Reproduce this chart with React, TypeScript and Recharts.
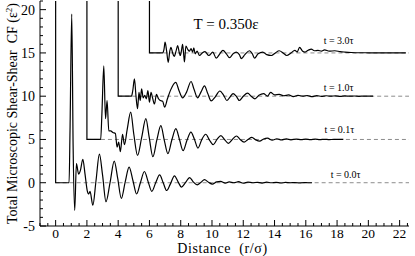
import { LineChart, Line, XAxis, YAxis, ReferenceLine, ReferenceDot } from 'recharts'

// [r, CF] pairs, before the vertical (+5) and horizontal (+2) offsets
const t00: [number, number][] = [
  [0, 40], [0.001, 0], [0.86, 0], [0.92, 6], [1.03, 19.5], [1.12, 4], [1.22, -3.2], [1.33, 2.2], [1.47, 1.0], [1.58, 1.4],
  [1.74, 2.7], [1.88, 1.0], [2.02, -0.9], [2.12, -1.3], [2.2, -1.0], [2.38, -2.6], [2.58, 0.2], [2.8, 3.3], [3.0, 0.9], [3.22, -2.2],
  [3.48, 0.0], [3.75, 2.5], [3.97, 0.5], [4.2, -1.8], [4.45, 0.1], [4.7, 1.8], [4.95, 0.2], [5.18, -1.3], [5.42, 0.0], [5.68, 1.3],
  [5.92, 0.1], [6.15, -1.0], [6.4, 0.0], [6.65, 0.9], [6.88, 0.0], [7.1, -0.9], [7.35, -0.1], [7.6, 0.8], [7.83, 0.1], [8.05, -0.5],
  [8.3, 0.0], [8.57, 0.6], [8.8, 0.1], [9.05, -0.25], [9.3, 0.05], [9.52, 0.35], [9.78, 0.05], [10.02, -0.15], [10.3, 0.1], [10.55, 0.15],
  [10.85, -0.05], [11.1, 0.1], [11.4, 0.0], [11.7, 0.12], [12.0, -0.05], [12.3, 0.08], [12.6, 0.0], [12.9, 0.05], [13.2, -0.04], [13.5, 0.06],
  [13.8, 0.0], [14.1, 0.04], [14.4, -0.03], [14.7, 0.03], [15.0, 0.0], [15.3, 0.02], [15.6, -0.02], [15.9, 0.02], [16.15, 0.0], [16.4, 0.0],
]

const t01: [number, number][] = [
  [0, 40], [0.001, 0], [0.88, 0], [0.96, 3], [1.08, 8.5], [1.19, 2.4], [1.29, 4.5], [1.4, 1.0], [1.52, 1.0], [1.66, 0.8],
  [1.82, 0.7], [1.93, -0.9], [2.03, -0.3], [2.14, -1.4], [2.28, 0.6], [2.4, -0.6], [2.58, 1.2], [2.8, 3.15], [3.0, 0.6], [3.24, -1.85],
  [3.5, 0.2], [3.77, 2.4], [3.98, 0.3], [4.22, -2.0], [4.48, 0.0], [4.73, 1.6], [4.95, -0.1], [5.18, -1.65], [5.44, 0.0], [5.69, 1.25],
  [5.92, 0.0], [6.15, -1.3], [6.4, -0.1], [6.65, 0.85], [6.88, 0.0], [7.1, -1.0], [7.35, 0.0], [7.6, 0.6], [7.85, -0.1], [8.08, -0.6],
  [8.32, 0.0], [8.57, 0.45], [8.8, 0.0], [9.05, -0.45], [9.3, 0.0], [9.57, 0.4], [9.8, 0.0], [10.05, -0.3], [10.3, 0.0], [10.55, 0.25],
  [10.8, -0.05], [11.05, -0.2], [11.3, 0.05], [11.55, 0.15], [11.85, -0.08], [12.15, 0.08], [12.45, -0.05], [12.75, 0.06], [13.05, -0.04], [13.4, 0.05],
  [13.7, -0.03], [14.0, 0.04], [14.3, -0.02], [14.6, 0.03], [14.9, -0.02], [15.2, 0.02], [15.5, -0.02], [15.8, 0.01], [16.1, 0.0], [16.4, 0.0],
]

const t10: [number, number][] = [
  [0, 40], [0.001, 0], [0.85, 0], [0.93, 0.6], [1.04, 2.0], [1.14, 0.0], [1.24, -1.45], [1.33, 0.45], [1.41, -0.5], [1.5, 0.85],
  [1.6, -0.2], [1.7, 0.1], [1.8, -0.3], [1.9, 0.65], [2.0, -0.7], [2.1, 0.45], [2.2, -0.2], [2.32, -0.9], [2.45, 0.2], [2.58, -0.3],
  [2.7, -0.5], [2.85, -0.6], [2.97, -1.27], [3.15, -0.3], [3.35, 0.7], [3.68, 1.6], [3.9, 0.6], [4.12, -0.2], [4.38, 0.5], [4.66, 1.7],
  [4.85, 0.8], [5.08, -0.2], [5.3, 0.5], [5.52, 1.2], [5.73, 0.3], [5.95, -0.55], [6.2, -0.1], [6.5, 0.6], [6.75, 0.1], [6.95, -0.5],
  [7.15, -0.1], [7.35, 0.3], [7.55, 0.0], [7.75, -0.5], [8.0, 0.0], [8.28, 0.35], [8.5, 0.0], [8.75, -0.3], [9.0, 0.1], [9.3, 0.3],
  [9.55, 0.0], [9.75, 0.45], [10.0, 0.15], [10.3, 0.2], [10.6, 0.05], [10.9, 0.15], [11.2, -0.05], [11.5, 0.1], [11.8, 0.0], [12.1, 0.08],
  [12.4, -0.05], [12.7, 0.06], [13.0, -0.02], [13.3, 0.05], [13.6, 0.0], [13.9, 0.04], [14.2, -0.02], [14.5, 0.03], [14.8, 0.0], [15.1, 0.02],
  [15.4, -0.01], [15.7, 0.01], [16.0, 0.0], [16.3, 0.0],
]

const t30: [number, number][] = [
  [0, 40], [0.001, 0], [0.84, 0], [0.93, 0.4], [1.0, 1.25], [1.1, 0.2], [1.2, -1.1], [1.3, 0.2], [1.38, 0.65], [1.48, 0.0],
  [1.58, -0.4], [1.7, 0.2], [1.8, 0.85], [1.9, 0.1], [1.97, -0.3], [2.05, 0.3], [2.12, 1.0], [2.18, 0.0], [2.24, -1.05], [2.33, 0.8],
  [2.45, 0.4], [2.55, 0.2], [2.66, 0.5], [2.76, 0.1], [2.84, 0.6], [2.92, -0.1], [3.05, 0.2], [3.2, -0.3], [3.38, 0.0], [3.55, 0.15],
  [3.8, -0.3], [4.05, 0.1], [4.27, -0.6], [4.5, -0.1], [4.7, 0.3], [4.92, -0.1], [5.12, -0.55], [5.35, -0.1], [5.55, 0.1], [5.75, -0.2],
  [5.88, -0.65], [6.1, -0.2], [6.4, 0.25], [6.58, -0.1], [6.72, -0.6], [6.95, -0.1], [7.25, 0.1], [7.5, -0.2], [7.8, -0.3], [8.05, 0.0],
  [8.3, 0.25], [8.55, 0.0], [8.78, -0.3], [9.05, 0.0], [9.3, 0.3], [9.45, 0.1], [9.6, 0.65], [9.8, 0.2], [9.95, 0.1], [10.15, 0.3],
  [10.35, 0.45], [10.55, 0.25], [10.78, 0.3], [11.0, 0.2], [11.2, 0.35], [11.5, 0.2], [11.85, 0.25], [12.2, 0.15], [12.5, 0.1], [12.9, 0.05],
  [13.35, 0.02], [13.8, 0.02], [14.3, 0.0], [14.8, 0.01], [15.3, 0.0], [15.8, 0.0], [16.4, 0.0],
]

const series = [t00, t01, t10, t30]
const curveLabels = ['t = 0.0τ', 't = 0.1τ', 't = 1.0τ', 't = 3.0τ']
const shifts = [0, 2, 4, 6]
const offsets = [0, 5, 10, 15]
const xTickLabels = [0, 2, 4, 6, 8, 10, 12, 14, 16, 18, 20, 22]
const yTickLabels = [-5, 0, 5, 10, 15, 20]

const X_MIN = -1
const X_MAX = 22.6
const Y_MIN = -5
const Y_MAX = 21
const SERIF = "'Liberation Serif', 'Times New Roman', serif"

const xTicks = Array.from({ length: 48 }, (_, i) => X_MIN + i * 0.5)
const yTicks = Array.from({ length: 27 }, (_, i) => Y_MIN + i)

const curves = series.map((pts, i) => pts.map(([r, v]) => ({ x: r + shifts[i], y: v + offsets[i] })))

function BottomTick({ x, y, payload }: any) {
  const major = xTickLabels.includes(payload.value)
  return (
    <g>
      <line x1={x} x2={x} y1={y} y2={y - (major ? 6 : 3)} stroke="#000" />
      {major && <text x={x} y={y + 11.5} textAnchor="middle" fontSize={13.5} fontFamily={SERIF} fill="#000">{payload.value}</text>}
    </g>
  )
}
function TopTick({ x, y, payload }: any) {
  const major = xTickLabels.includes(payload.value)
  return <line x1={x} x2={x} y1={y} y2={y + (major ? 6 : 3)} stroke="#000" />
}
function LeftTick({ x, y, payload }: any) {
  const major = yTickLabels.includes(payload.value)
  return (
    <g>
      <line x1={x} x2={x + (major ? 6 : 3)} y1={y} y2={y} stroke="#000" />
      {major && <text x={x - 5} y={y} dy="0.35em" textAnchor="end" fontSize={14} fontFamily={SERIF} fill="#000">{payload.value}</text>}
    </g>
  )
}
function RightTick({ x, y, payload }: any) {
  const major = yTickLabels.includes(payload.value)
  return <line x1={x} x2={x - (major ? 6 : 3)} y1={y} y2={y} stroke="#000" />
}

const XTitle = ({ viewBox }: any) => (
  <text x={viewBox.x + viewBox.width / 2 - 2} y={viewBox.y + 27.3} textAnchor="middle" fontSize={14} letterSpacing={0.6} fontFamily={SERIF} fill="#000" style={{ whiteSpace: 'pre' }}>
    Distance  (r/σ)
  </text>
)
const YTitle = ({ viewBox }: any) => {
  const cx = viewBox.x + 12
  const cy = viewBox.y + viewBox.height / 2
  return (
    <text x={cx} y={cy} dy="0.35em" transform={`rotate(-90, ${cx}, ${cy})`} textAnchor="middle" fontSize={14} fontFamily={SERIF} fill="#000" style={{ whiteSpace: 'pre' }}>
      Total Microscopic Shear-Shear  CF (ε<tspan dy={-5} fontSize={9}>2</tspan><tspan dy={5}>)</tspan>
    </text>
  )
}

const textAt = (s: string, size: number) => ({ viewBox }: any) => (
  <text x={viewBox.x + viewBox.width / 2} y={viewBox.y + viewBox.height / 2} dy="0.35em" textAnchor="middle" fontSize={size} fontFamily={SERIF} fill="#000">
    {s}
  </text>
)

const labelSpots = [
  { x: 18.55, y: 1.0 },
  { x: 18.15, y: 6.15 },
  { x: 18.1, y: 11.05 },
  { x: 18.1, y: 16.45 },
]

export default function App() {
  return (
    <div style={{ position: 'absolute', left: 0, top: 0, width: 415, height: 256, background: '#fff' }}>
      <LineChart width={415} height={256} margin={{ top: 1, right: 6, bottom: 0, left: 0 }}>
        <XAxis dataKey="x" type="number" domain={[X_MIN, X_MAX]} allowDataOverflow ticks={xTicks} interval={0}
          tickSize={0} tickMargin={0} tickLine={false} tick={<BottomTick />} height={30} stroke="#000" label={{ content: XTitle }} />
        <XAxis xAxisId="top" orientation="top" type="number" domain={[X_MIN, X_MAX]} allowDataOverflow ticks={xTicks} interval={0}
          tickSize={0} tickMargin={0} tickLine={false} tick={<TopTick />} height={0} stroke="#000" />
        <YAxis type="number" domain={[Y_MIN, Y_MAX]} allowDataOverflow ticks={yTicks} interval={0}
          tickSize={0} tickMargin={0} tickLine={false} tick={<LeftTick />} width={40} stroke="#000" label={{ content: YTitle }} />
        <YAxis yAxisId="right" orientation="right" type="number" domain={[Y_MIN, Y_MAX]} allowDataOverflow ticks={yTicks} interval={0}
          tickSize={0} tickMargin={0} tickLine={false} tick={<RightTick />} width={0} stroke="#000" />

        {offsets.map((o, i) => (
          <ReferenceLine key={'ref' + i} segment={[{ x: shifts[i], y: o }, { x: X_MAX, y: o }]} stroke="#8c8c8c" strokeDasharray="4 3" strokeWidth={1} />
        ))}

        {curves.map((d, i) => (
          <Line key={curveLabels[i]} data={d} dataKey="y" type="monotone" dot={false} stroke="#000" strokeWidth={1.2} isAnimationActive={false} />
        ))}

        {labelSpots.map((p, i) => (
          <ReferenceDot key={'lab' + i} x={p.x} y={p.y} r={0} fill="none" stroke="none" label={{ content: textAt(curveLabels[i], 10) }} />
        ))}
        <ReferenceDot x={10.9} y={18.4} r={0} fill="none" stroke="none" label={{ content: textAt('T = 0.350ε', 15) }} />
      </LineChart>
    </div>
  )
}
